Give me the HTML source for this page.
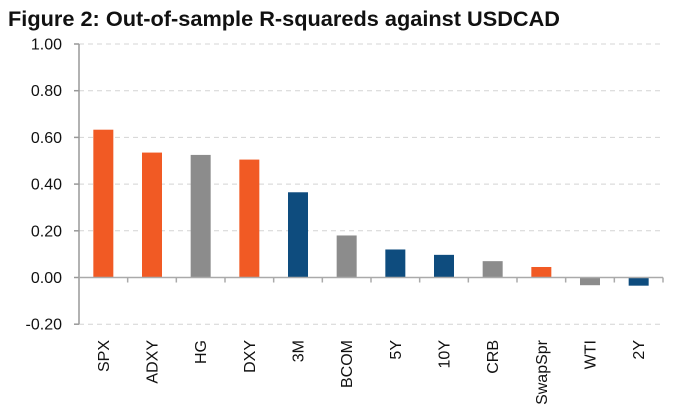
<!DOCTYPE html>
<html><head><meta charset="utf-8"><style>
html,body{margin:0;padding:0;background:#fff;}
svg{display:block;font-family:"Liberation Sans",Arial,sans-serif;}
</style></head><body>
<svg id="chart" width="676" height="416">
<text x="8" y="26" font-size="21" font-weight="bold" fill="#111" textLength="552" lengthAdjust="spacingAndGlyphs">Figure 2: Out-of-sample R-squareds against USDCAD</text>
<g id="grid"></g><g id="bars"></g><g id="axes"></g>
</svg>
<script>
const categories=["SPX","ADXY","HG","DXY","3M","BCOM","5Y","10Y","CRB","SwapSpr","WTI","2Y"];
const values=[0.633,0.535,0.525,0.505,0.365,0.18,0.12,0.097,0.07,0.045,-0.033,-0.035];
const colorGroup=["o","o","g","o","b","g","b","b","g","o","g","b"];
const ticks=[1.0,0.8,0.6,0.4,0.2,0.0,-0.2];
const tickLabels=["1.00","0.80","0.60","0.40","0.20","0.00","-0.20"];
const NS="http://www.w3.org/2000/svg";
const X0=79,X1=663,yTop=44,pxPerUnit=233.5;
const y=v=>yTop+(1-v)*pxPerUnit;
const step=(X1-X0)/categories.length;
const xc=i=>X0+step*(i+0.5);
const col={o:"#F15A24",g:"#8C8C8C",b:"#0E4C7E"};
function mk(tag,attrs,parent){const e=document.createElementNS(NS,tag);for(const k in attrs)e.setAttribute(k,attrs[k]);parent.appendChild(e);return e;}
const grid=document.getElementById('grid'),bars=document.getElementById('bars'),axes=document.getElementById('axes');
ticks.forEach((t,i)=>{
  if(t!==0){const l=mk('line',{x1:X0,x2:X1,y1:y(t),y2:y(t),stroke:"#d4d4d4","stroke-dasharray":"5,4","stroke-width":1},grid);
  
  }
  const tk=mk('line',{x1:X0-5,x2:X0,y1:y(t),y2:y(t),stroke:"#999","stroke-width":1.5},axes);
  
  
  const tx=mk('text',{x:62,y:y(t)+5.5,"font-size":16,"text-anchor":"end",fill:"#111"},axes);
  tx.textContent=tickLabels[i];
  
  
});
const bw=20;
values.forEach((v,i)=>{
  const r=mk('rect',{x:xc(i)-bw/2,y:Math.min(y(v),y(0)),width:bw,height:Math.abs(y(v)-y(0)),fill:col[colorGroup[i]]},bars);
  
  
  const t=mk('text',{transform:`translate(${xc(i)+5.5},340) rotate(-90)`,"font-size":16,"text-anchor":"end",fill:"#111"},axes);
  t.textContent=categories[i];
  
  
});
const ya=mk('line',{x1:X0,x2:X0,y1:yTop,y2:y(-0.2),stroke:"#999","stroke-width":1.5},axes);


const xa=mk('line',{x1:X0,x2:X1,y1:y(0),y2:y(0),stroke:"#aaa","stroke-width":1.5},axes);


for(let i=0;i<=categories.length;i++){
  const tk=mk('line',{x1:X0+step*i,x2:X0+step*i,y1:y(0),y2:y(0)+5,stroke:"#aaa","stroke-width":1.5},axes);
  
  
}
</script>
</body></html>
